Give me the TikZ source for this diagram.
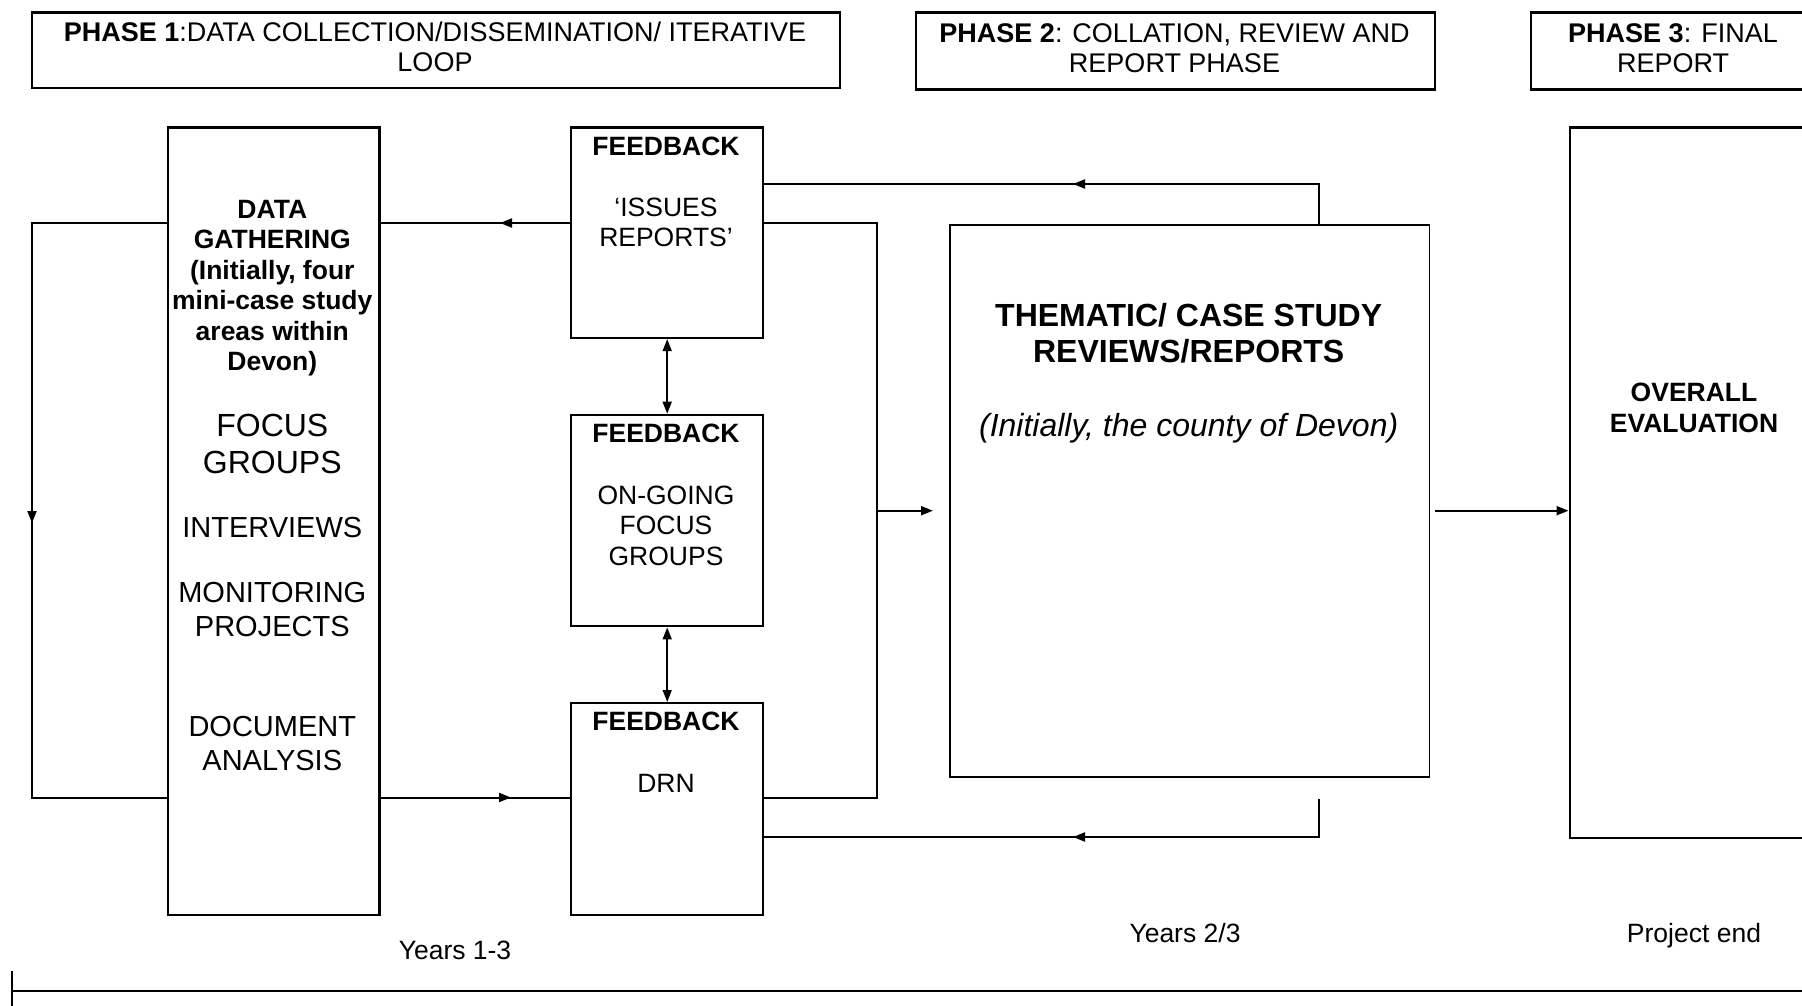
\documentclass[tikz,border=0pt]{standalone}
\usepackage{fontspec}
\setmainfont{Liberation Sans}
\usetikzlibrary{arrows.meta}
\begin{document}
\begin{tikzpicture}[x=1pt,y=-1pt,
  bx/.style={draw, line width=2.4pt, inner sep=0pt, anchor=north west},
  thinbx/.style={draw, line width=1.6pt, inner sep=0pt, anchor=north west},
  txt/.style={inner sep=0pt, align=center},
  conn/.style={line width=2pt},
  mtip/.style={line width=2pt, -{Triangle[length=12pt,width=9pt]}},
  dtip/.style={line width=1.6pt, {Triangle[length=12pt,width=9pt]}-{Triangle[length=12pt,width=9pt]}},
  fa/.style={font=\fontsize{26.5pt}{30.5pt}\selectfont},
  fab/.style={font=\fontsize{26.5pt}{30.5pt}\selectfont\bfseries},
]
\useasboundingbox (0,0) rectangle (1802,1006);
\clip (0,0) rectangle (1802,1006);
\fill[white] (0,0) rectangle (1802,1006);

% phase boxes
\node[bx, minimum width=808pt, minimum height=75.5pt] (p1) at (31,11.5) {};
\node[bx, minimum width=519pt, minimum height=77pt] (p2) at (915,11.5) {};
\node[bx, minimum width=286pt, minimum height=77pt] (p3) at (1530,11.5) {};
\node[txt, font=\fontsize{27pt}{30pt}\selectfont] (p1t) at (435,47) {\textbf{PHASE 1}:DATA COLLECTION/DISSEMINATION/ ITERATIVE\\LOOP};
\node[txt, font=\fontsize{27pt}{30pt}\selectfont] (p2t) at (1174.5,48) {\textbf{PHASE 2}: COLLATION, REVIEW AND\\REPORT PHASE};
\node[txt, font=\fontsize{27pt}{30pt}\selectfont] (p3t) at (1673,48) {\textbf{PHASE 3}: FINAL\\REPORT};

% main boxes
\node[bx, minimum width=211.8pt, minimum height=787.2pt] (dg) at (166.5,126.4) {};
\node[bx, minimum width=192pt, minimum height=210.3pt] (fb1) at (570,126.4) {};
\node[bx, minimum width=192pt, minimum height=211.3pt] (fb2) at (570,413.7) {};
\node[bx, minimum width=192pt, minimum height=211.6pt] (fb3) at (570,702) {};
\node[thinbx, minimum width=479.5pt, minimum height=551.7pt] (th) at (949,224.3) {};
\node[bx, minimum width=250.5pt, minimum height=710.8pt] (ov) at (1568.5,126.2) {};

% data gathering texts
\node[txt, fab] (dg1) at (272.3,288) {DATA\\GATHERING\\(Initially, four\\mini-case study\\areas within\\Devon)};
\node[txt, font=\fontsize{32pt}{36.8pt}\selectfont] (dg2) at (272.3,443.6) {FOCUS\\GROUPS};
\node[txt, font=\fontsize{29pt}{33.4pt}\selectfont] (dg3) at (272.3,527.5) {INTERVIEWS};
\node[txt, font=\fontsize{29pt}{33.4pt}\selectfont] (dg4) at (272.3,609.5) {MONITORING\\PROJECTS};
\node[txt, font=\fontsize{29pt}{33.4pt}\selectfont] (dg5) at (272.3,743.5) {DOCUMENT\\ANALYSIS};

% feedback texts
\node[txt, fab] (f1h) at (666,146) {FEEDBACK};
\node[txt, fa] (f1t) at (666,222.4) {‘ISSUES\\REPORTS’};
\node[txt, fab] (f2h) at (666,433.2) {FEEDBACK};
\node[txt, fa] (f2t) at (666,525.7) {ON-GOING\\FOCUS\\GROUPS};
\node[txt, fab] (f3h) at (666,721.7) {FEEDBACK};
\node[txt, fa] (f3t) at (666,783.7) {DRN};

% thematic texts
\node[txt, font=\fontsize{32pt}{36.6pt}\selectfont\bfseries] (tht) at (1188.7,333.3) {THEMATIC/ CASE STUDY\\REVIEWS/REPORTS};
\node[txt, font=\fontsize{32pt}{36.6pt}\selectfont\itshape] (thi) at (1188.7,428.5) {(Initially, the county of Devon)};

% overall
\node[txt, font=\fontsize{26.5pt}{31pt}\selectfont\bfseries] (ovt) at (1694,407.5) {OVERALL\\EVALUATION};

% timeline labels
\node[txt, fa] (y13) at (455,950.5) {Years 1-3};
\node[txt, fa] (y23) at (1185,933) {Years 2/3};
\node[txt, fa] (pe) at (1694,936) {Project end};

% coordinates
\coordinate (cL) at (32,223);
\coordinate (cL2) at (32,797.5);
\coordinate (tL) at (32,523);
\coordinate (t1) at (500,223);
\coordinate (t2) at (511,797.5);
\coordinate (cR1) at (877,223);
\coordinate (cR2) at (877,797.5);
\coordinate (cRm) at (877,510.7);
\coordinate (cV) at (1319,184);
\coordinate (t3) at (1073,184);
\coordinate (cVb1) at (1319,799);
\coordinate (cVb2) at (1319,837);
\coordinate (t4) at (1073,837);

% loop on the left
\draw[conn] (dg.west |- cL) -- (cL) -- (cL2) -- (dg.west |- cL2);
\draw[mtip] (cL) -- (tL);

% feedback 1 -> data gathering
\draw[conn] (fb1.west |- cL) -- (dg.east |- cL);
\draw[mtip] (fb1.west |- cL) -- (t1);

% data gathering -> feedback 3
\draw[conn] (dg.east |- cL2) -- (fb3.west |- cL2);
\draw[mtip] (dg.east |- cL2) -- (t2);

% right bracket from feedbacks to thematic
\draw[conn] (fb1.east |- cR1) -- (cR1) -- (cR2) -- (fb3.east |- cR2);
\draw[mtip, shorten >=16pt] (cRm) -- (th.west |- cRm);

% thematic back to feedbacks
\draw[conn] (th.north -| cV) -- (cV) -- (fb1.east |- cV);
\draw[mtip] (cV) -- (t3);
\draw[conn] (cVb1) -- (cVb2) -- (fb3.east |- cVb2);
\draw[mtip] (cVb2) -- (t4);

% thematic -> overall
\draw[mtip, shorten <=5pt] (th.east |- cRm) -- (ov.west |- cRm);

% feedback double arrows
\draw[dtip] (fb1.south) -- (fb2.north);
\draw[dtip] (fb2.south) -- (fb3.north);

% timeline
\coordinate (tl0) at (11.5,990.6);
\coordinate (tl1) at (1802,990.6);
\draw[line width=2pt] (11.5,971) -- (11.5,1006);
\draw[line width=2pt] (tl0) -- (tl1);
\end{tikzpicture}
\end{document}
